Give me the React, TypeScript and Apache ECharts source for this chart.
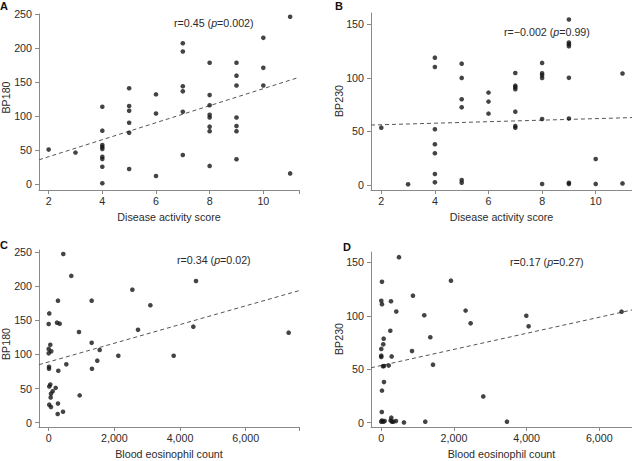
import React, { useEffect, useRef } from "react";
import * as echarts from "echarts";

// Panel A: BP180 vs Disease activity score
const scoreA = [2, 3, 4, 4, 4, 4, 4, 4, 4, 4, 4, 5, 5, 5, 5, 5, 5, 6, 6, 6, 7, 7, 7, 7, 7, 7, 8, 8, 8, 8, 8, 8, 8, 8, 9, 9, 9, 9, 9, 9, 9, 10, 10, 10, 11, 11];
const bp180A = [51, 46.5, 113.9, 78.7, 57.7, 54.8, 51.9, 40.5, 37.1, 25.8, 1.5, 141, 115, 108, 90.4, 75.7, 22.5, 132, 104, 12.2, 207, 195, 144, 136.5, 106.5, 43, 178.5, 131, 116, 102, 98, 84.6, 78, 27, 178.5, 159.5, 145, 98, 85.6, 78, 36.7, 215, 171, 145, 246, 16];

// Panel B: BP230 vs Disease activity score
const scoreB = [2, 3, 4, 4, 4, 4, 4, 4, 4, 5, 5, 5, 5, 5, 5, 6, 6, 6, 7, 7, 7, 7, 7, 7, 7, 8, 8, 8, 8, 8, 8, 9, 9, 9, 9, 9, 9, 9, 9, 10, 10, 11, 11];
const bp230B = [53.5, 0.6, 118.8, 110.1, 52, 38, 29.6, 10.3, 2.5, 113.2, 99.9, 80, 72.5, 4.7, 2.1, 86.2, 77.8, 66.6, 104.5, 92.7, 91.2, 89.3, 68.4, 55.1, 53.5, 113.9, 104.3, 102.4, 99.9, 61.6, 0.9, 154.4, 133, 131.3, 129.5, 100, 62, 2, 1, 24.3, 1, 104, 1.5];

// Panel C: BP180 vs Blood eosinophil count
const eosC = [445, 689, 283, 1309, 18, 0, 253, 335, 923, 1309, 49, 0, 79, 0, 1553, 1480, 537, 10, 10, 1318, 293, 49, 18, 213, 122, 70, 61, 944, 18, 70, 283, 436, 274, 2121, 2548, 2720, 3096, 3806, 4405, 4486, 7308];
const bp180C = [247, 215, 178.7, 178.7, 160, 144.6, 146.5, 145, 132.8, 117, 114, 108, 104.5, 101.6, 106.5, 90.8, 85.5, 82, 79, 79, 76, 56, 53, 51, 46, 42.5, 37, 40, 26.4, 23, 28, 16, 12.7, 98, 194.8, 136, 172, 98, 140.6, 207.5, 131.8];

// Panel D: BP230 vs Blood eosinophil count
const eosD = [487, 19, 872, 0, 267, 19, 413, 1183, 248, 66, 1349, 55, 0, 0, 0, 845, 286, 47, 74, 204, 1423, 74, 19, 14, 0, 18, 55, 92, 258, 276, 294, 330, 404, 624, 1211, 3459, 1917, 2321, 2459, 2807, 3991, 4055, 6614];
const bp230D = [154.8, 131.7, 118.8, 114, 113.6, 110.8, 103.9, 100.5, 86, 78.6, 79.9, 73.3, 69, 62.7, 61.5, 67, 62, 52.8, 53, 53.4, 54.3, 38, 30, 10, 1, 2, 1, 1.5, 2, 4.7, 1, 1, 1.5, 0.3, 1, 1, 132.8, 104.8, 92.9, 24.6, 100, 90.1, 103.8];

// Regression lines (intercept, slope)
const fitIntercept = [15.5, 54.8, 89.0, 53.5];
const fitSlope = [12.49, 0.713, 0.01369, 0.00752];

const panelLetters = ["A", "B", "C", "D"];
const yNames = ["BP180", "BP230", "BP180", "BP230"];
const xNames = ["Disease activity score", "Disease activity score", "Blood eosinophil count", "Blood eosinophil count"];
const rValues = ["0.45", "\u22120.002", "0.34", "0.17"];
const pValues = ["0.002", "0.99", "0.02", "0.27"];

const scoreTicks = [2, 4, 6, 8, 10];
const eosTicks = [0, 2000, 4000, 6000];
const bp180Ticks = [0, 50, 100, 150, 200, 250];
const bp230Ticks = [0, 50, 100, 150];

const FONT = "'Liberation Sans', Arial, sans-serif";
const FS = 10.7;
const TEXT = "#2b2b2b";
const AXIS = "#8a8a8a";

export default function App() {
  const ref = useRef<HTMLDivElement>(null);
  useEffect(() => {
    if (!ref.current) return;
    const chart = echarts.init(ref.current, null, { renderer: "svg" });

    const grids = [
      { left: 39, top: 14, width: 260, height: 176 },
      { left: 371, top: 13, width: 261, height: 177 },
      { left: 39, top: 250, width: 260, height: 177 },
      { left: 371, top: 252, width: 261, height: 175 },
    ].map((g) => ({ ...g, outerBoundsMode: "none", containLabel: false }));

    const xRanges = [
      [1.64, 11.33],
      [1.616, 11.354],
      [-295, 7623],
      [-283, 6900],
    ];
    const yRanges = [
      [-8.37, 250],
      [-4.67, 160.5],
      [-6.3, 252.9],
      [-4.0, 159.6],
    ];

    const fmt = (v: number) =>
      String(Math.round(v)).replace(/\B(?=(\d{3})+(?!\d))/g, ",");

    const xAxis = [0, 1, 2, 3].map((i) => {
      const ticks = i < 2 ? scoreTicks : eosTicks;
      const tickVals = i === 3 ? ticks : [...ticks, xRanges[i][1]];
      return {
        type: "value",
        gridIndex: i,
        min: xRanges[i][0],
        max: xRanges[i][1],
        splitLine: { show: false },
        axisLine: { show: true, onZero: false, lineStyle: { color: AXIS, width: 1 } },
        axisTick: { show: true, length: 4, customValues: tickVals, lineStyle: { color: AXIS, width: 1 } },
        axisLabel: {
          customValues: ticks,
          margin: 5,
          color: TEXT,
          fontFamily: FONT,
          fontSize: FS,
          formatter: (v: number) => fmt(v),
        },
        name: xNames[i],
        nameLocation: "middle",
        nameGap: 21,
        nameTextStyle: { color: TEXT, fontFamily: FONT, fontSize: FS },
      };
    });

    const yAxis = [0, 1, 2, 3].map((i) => {
      const ticks = i % 2 === 0 ? bp180Ticks : bp230Ticks;
      return {
        type: "value",
        gridIndex: i,
        min: yRanges[i][0],
        max: yRanges[i][1],
        splitLine: { show: false },
        axisLine: { show: true, onZero: false, lineStyle: { color: AXIS, width: 1 } },
        axisTick: { show: true, length: 4, customValues: ticks, lineStyle: { color: AXIS, width: 1 } },
        axisLabel: {
          customValues: ticks,
          margin: 7,
          color: TEXT,
          fontFamily: FONT,
          fontSize: FS,
          formatter: (v: number) => String(Math.round(v)),
        },
      };
    });

    const pts = [
      scoreA.map((x, k) => [x, bp180A[k]]),
      scoreB.map((x, k) => [x, bp230B[k]]),
      eosC.map((x, k) => [x, bp180C[k]]),
      eosD.map((x, k) => [x, bp230D[k]]),
    ];

    const series: any[] = [];
    [0, 1, 2, 3].forEach((i) => {
      const [x0, x1] = xRanges[i];
      series.push({
        type: "line",
        xAxisIndex: i,
        yAxisIndex: i,
        data: [
          [x0, fitIntercept[i] + fitSlope[i] * x0],
          [x1, fitIntercept[i] + fitSlope[i] * x1],
        ],
        symbol: "none",
        silent: true,
        lineStyle: { color: "#555", width: 1, type: [4, 3] },
        z: 1,
      });
      series.push({
        type: "scatter",
        xAxisIndex: i,
        yAxisIndex: i,
        data: pts[i],
        symbol: "circle",
        symbolSize: 4.6,
        itemStyle: { color: "#151515" },
        z: 3,
      });
    });

    const letterPos = [
      [0, 0],
      [335, 0],
      [0, 239],
      [343, 241],
    ];
    const yNamePos = [
      [5.5, 97.5],
      [339, 101],
      [5.5, 344],
      [339, 339],
    ];
    const annPos = [
      [174, 22.5],
      [504, 31.7],
      [177, 260],
      [510, 261.7],
    ];

    const graphic: any[] = [];
    [0, 1, 2, 3].forEach((i) => {
      graphic.push({
        type: "text",
        x: letterPos[i][0],
        y: letterPos[i][1],
        style: {
          text: panelLetters[i],
          fill: "#111",
          font: `bold 11px ${FONT}`,
          textAlign: "left",
          textVerticalAlign: "top",
        },
      });
      graphic.push({
        type: "text",
        x: yNamePos[i][0],
        y: yNamePos[i][1],
        rotation: Math.PI / 2,
        style: {
          text: yNames[i],
          fill: TEXT,
          font: `${FS}px ${FONT}`,
          textAlign: "center",
          textVerticalAlign: "middle",
        },
      });
      graphic.push({
        type: "text",
        x: annPos[i][0],
        y: annPos[i][1],
        style: {
          text: `r=${rValues[i]} ({i|p}=${pValues[i]})`,
          fill: TEXT,
          font: `${FS}px ${FONT}`,
          textAlign: "left",
          textVerticalAlign: "middle",
          rich: {
            i: { fontStyle: "italic", fontFamily: FONT, fontSize: FS, fill: TEXT },
          },
        },
      });
    });

    chart.setOption({
      animation: false,
      backgroundColor: "#ffffff",
      grid: grids,
      xAxis,
      yAxis,
      series,
      graphic,
    });
    return () => chart.dispose();
  }, []);

  return (
    <div
      ref={ref}
      style={{ position: "fixed", left: 0, top: 0, width: 632, height: 461, background: "#fff" }}
    />
  );
}
